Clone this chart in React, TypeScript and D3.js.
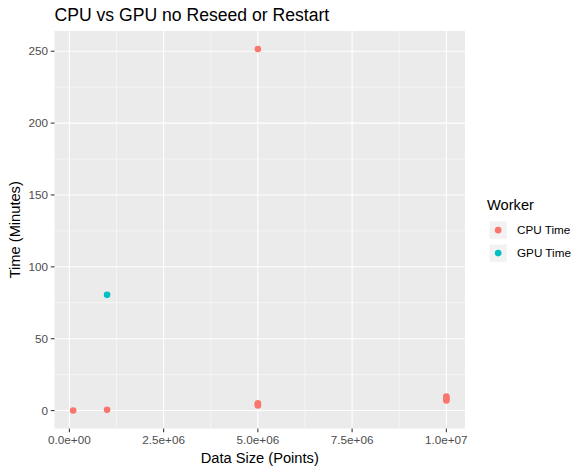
import React from "react";
import * as d3 from "d3";

const workers = ["CPU Time", "GPU Time"];
const colors = ["#F8766D", "#00BFC4"];
const pointWorker = ["CPU Time", "CPU Time", "CPU Time", "CPU Time", "CPU Time", "CPU Time", "CPU Time", "CPU Time", "CPU Time", "CPU Time", "GPU Time"];
const pointSize = [1e5, 1e6, 5e6, 5e6, 5e6, 5e6, 1e7, 1e7, 1e7, 1e7, 1e6];
const pointTime = [0.1, 0.5, 3.6, 4.3, 5.0, 251.5, 7.0, 8.0, 9.0, 9.8, 80.5];
const xTicks = [0, 2.5e6, 5e6, 7.5e6, 1e7];
const xTickLabels = ["0.0e+00", "2.5e+06", "5.0e+06", "7.5e+06", "1.0e+07"];
const yTicks = [0, 50, 100, 150, 200, 250];

const W = 586, H = 474;
const panel = { left: 54.5, right: 465, top: 31, bottom: 428.5 };
const font = "Liberation Sans, Arial, Helvetica, sans-serif";

function expand(ext: [number, number]): [number, number] {
  const d = (ext[1] - ext[0]) * 0.05;
  return [ext[0] - d, ext[1] + d];
}

export default function App() {
  const x = d3.scaleLinear().domain(expand(d3.extent(pointSize) as [number, number])).range([panel.left, panel.right]);
  const y = d3.scaleLinear().domain(expand(d3.extent(pointTime) as [number, number])).range([panel.bottom, panel.top]);
  const color = d3.scaleOrdinal<string, string>().domain(workers).range(colors);
  const xMinor = xTicks.slice(0, -1).map((t, i) => (t + xTicks[i + 1]) / 2);
  const yMinor = yTicks.slice(0, -1).map((t, i) => (t + yTicks[i + 1]) / 2);
  const pts = pointSize.map((s, i) => ({ s, t: pointTime[i], w: pointWorker[i] }));
  return (
    <svg width={W} height={H} style={{ position: "absolute", left: 0, top: 0 }} fontFamily={font}>
      <rect width={W} height={H} fill="white" />
      <text x={panel.left} y={20.5} fontSize={17.6} fill="black">CPU vs GPU no Reseed or Restart</text>
      <rect x={panel.left} y={panel.top} width={panel.right - panel.left} height={panel.bottom - panel.top} fill="#EBEBEB" />
      {xMinor.map((t) => <line key={"xm" + t} x1={x(t)} x2={x(t)} y1={panel.top} y2={panel.bottom} stroke="white" strokeWidth={0.53} />)}
      {yMinor.map((t) => <line key={"ym" + t} y1={y(t)} y2={y(t)} x1={panel.left} x2={panel.right} stroke="white" strokeWidth={0.53} />)}
      {xTicks.map((t) => <line key={"xM" + t} x1={x(t)} x2={x(t)} y1={panel.top} y2={panel.bottom} stroke="white" strokeWidth={1.07} />)}
      {yTicks.map((t) => <line key={"yM" + t} y1={y(t)} y2={y(t)} x1={panel.left} x2={panel.right} stroke="white" strokeWidth={1.07} />)}
      {pts.map((p, i) => <circle key={i} cx={x(p.s)} cy={y(p.t)} r={3.3} fill={color(p.w)} />)}
      {xTicks.map((t, i) => (
        <g key={"xt" + t}>
          <line x1={x(t)} x2={x(t)} y1={panel.bottom} y2={panel.bottom + 3.7} stroke="#333333" strokeWidth={1.07} />
          <text x={x(t)} y={panel.bottom + 15.5} textAnchor="middle" fontSize={11.7} fill="#4D4D4D">{xTickLabels[i]}</text>
        </g>
      ))}
      {yTicks.map((t) => (
        <g key={"yt" + t}>
          <line x1={panel.left - 3.7} x2={panel.left} y1={y(t)} y2={y(t)} stroke="#333333" strokeWidth={1.07} />
          <text x={panel.left - 6.5} y={y(t)} dy="0.35em" textAnchor="end" fontSize={11.7} fill="#4D4D4D">{t}</text>
        </g>
      ))}
      <text x={(panel.left + panel.right) / 2} y={463} textAnchor="middle" fontSize={14.67} fill="black">Data Size (Points)</text>
      <text transform={`translate(19.5,${(panel.top + panel.bottom) / 2}) rotate(-90)`} textAnchor="middle" fontSize={14.67} fill="black">Time (Minutes)</text>
      <text x={487} y={210} fontSize={14.67} fill="black">Worker</text>
      {workers.map((w, i) => (
        <g key={w} transform={`translate(489.5,${221.5 + i * 23})`}>
          <rect width={17.3} height={17.3} fill="#F2F2F2" />
          <circle cx={8.65} cy={8.65} r={3.3} fill={color(w)} />
          <text x={27.5} y={8.65} dy="0.35em" fontSize={11.7} fill="black">{w}</text>
        </g>
      ))}
    </svg>
  );
}
